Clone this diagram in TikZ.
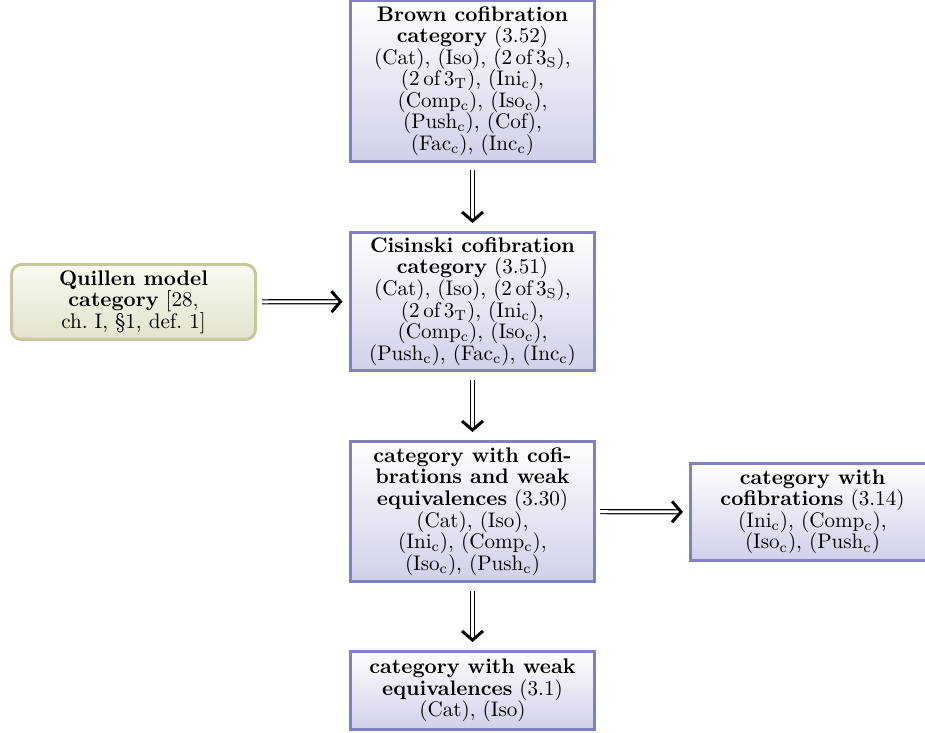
\documentclass[tikz,border=0pt]{standalone}
\usetikzlibrary{arrows.meta}
\definecolor{boxline}{RGB}{128,128,196}
\definecolor{boxlow}{RGB}{208,208,234}
\definecolor{qline}{RGB}{200,200,160}
\definecolor{qtop}{RGB}{250,250,242}
\definecolor{qlow}{RGB}{226,226,204}
% one drawing unit
\newdimen\un \un=0.488pt
\newcommand{\boxfont}{\fontsize{10.3pt}{10.5pt}\selectfont}
\tikzset{
  classbox/.style={draw=boxline, line width=3*\un, top color=white, bottom color=boxlow,
    minimum width=244*\un, inner sep=0pt, align=center, font=\boxfont},
  modelbox/.style={draw=qline, line width=3*\un, rounded corners=10*\un, top color=qtop, bottom color=qlow,
    minimum width=244*\un, inner sep=0pt, align=center, font=\boxfont},
  implies/.style={double, double distance=2.9*\un, line width=1.1*\un,
    -{Straight Barb[length=4.4pt, width=10.2pt, line width=1.45pt]}},
}
\newcommand{\sub}[1]{$_{\mathrm{#1}}$}
\begin{document}
\begin{tikzpicture}[x=\un, y=-\un]
\useasboundingbox (0,0) rectangle (925,733);
\node[classbox, minimum height=161*\un] (brown) at (472.5,81) {%
  \textbf{Brown cofibration}\\ \textbf{category} (3.52)\\
  (Cat), (Iso), (2\,of\,3\sub{S}),\\ (2\,of\,3\sub{T}), (Ini\sub{c}),\\
  (Comp\sub{c}), (Iso\sub{c}),\\ (Push\sub{c}), (Cof),\\ (Fac\sub{c}), (Inc\sub{c})};
\node[classbox, minimum height=138*\un] (cis) at (472.5,301.5) {%
  \textbf{Cisinski cofibration}\\ \textbf{category} (3.51)\\
  (Cat), (Iso), (2\,of\,3\sub{S}),\\ (2\,of\,3\sub{T}), (Ini\sub{c}),\\
  (Comp\sub{c}), (Iso\sub{c}),\\ (Push\sub{c}), (Fac\sub{c}), (Inc\sub{c})};
\node[classbox, minimum height=140*\un] (cwe) at (472.5,511.5) {%
  \textbf{category with cofi-}\\ \textbf{brations and weak}\\ \textbf{equivalences} (3.30)\\
  (Cat), (Iso),\\ (Ini\sub{c}), (Comp\sub{c}),\\ (Iso\sub{c}), (Push\sub{c})};
\node[classbox, minimum height=78*\un] (weak) at (472.5,690.5) {%
  \textbf{category with weak}\\ \textbf{equivalences} (3.1)\\ (Cat), (Iso)};
\node[classbox, minimum height=97*\un] (cof) at (812.5,512) {%
  \textbf{category with}\\ \textbf{cofibrations} (3.14)\\
  (Ini\sub{c}), (Comp\sub{c}),\\ (Iso\sub{c}), (Push\sub{c})};
\node[modelbox, minimum height=75*\un] (quillen) at (133.5,302) {%
  \textbf{Quillen model}\\ \textbf{category} [28,\\ ch.~I, \S1, def.~1]};
\draw[implies, shorten <=7.5*\un, shorten >=8*\un] (brown) -- (cis);
\draw[implies, shorten <=7.5*\un, shorten >=8*\un] (cis) -- (cwe);
\draw[implies, shorten <=7.5*\un, shorten >=8*\un] (cwe) -- (weak);
\draw[implies, shorten <=5*\un, shorten >=6.5*\un] (quillen) -- (cis);
\draw[implies, shorten <=4*\un, shorten >=6*\un] (cwe) -- (cof);
\end{tikzpicture}
\end{document}
